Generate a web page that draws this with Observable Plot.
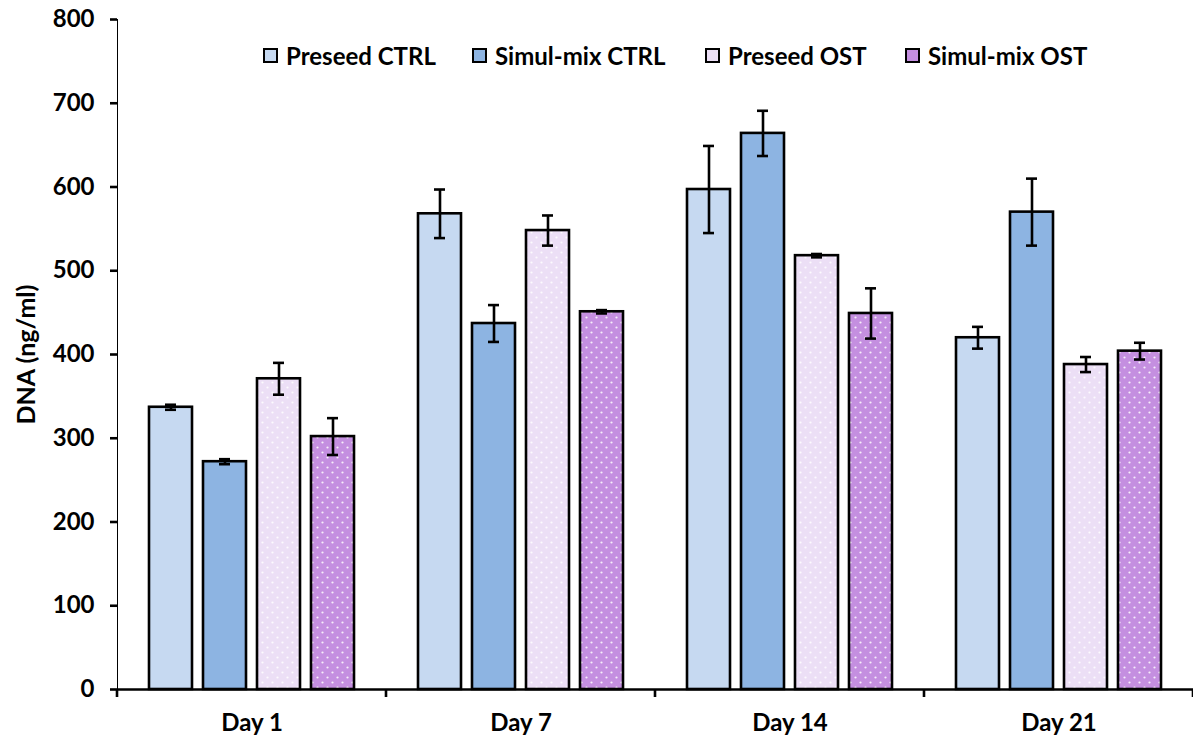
<!DOCTYPE html>
<html><head><meta charset="utf-8">
<script src="https://cdn.jsdelivr.net/npm/d3@7"></script>
<script src="https://cdn.jsdelivr.net/npm/@observablehq/plot@0.6"></script>
<style>
html,body{margin:0;padding:0;background:#fff;}
#wrap{position:relative;width:1193px;height:744px;}
#legend{position:absolute;top:42px;left:0;width:1193px;height:26px;font-family:Lato,sans-serif;font-weight:bold;font-size:24px;color:#000;}
.item{position:absolute;top:0;display:flex;align-items:center;height:26px;white-space:nowrap;}
.sw{width:11px;height:11px;border:2px solid #000;margin-right:8px;box-sizing:content-box;}
</style>
</head><body>
<div id="wrap"><div id="legend"></div></div>
<script>
const days = ["Day 1", "Day 7", "Day 14", "Day 21"];
const series = ["Preseed CTRL", "Simul-mix CTRL", "Preseed OST", "Simul-mix OST"];
const preseedCtrl = [337, 568, 597, 420];
const simulCtrl = [272, 437, 664, 570];
const preseedOst = [371, 548, 518, 388];
const simulOst = [302, 451, 449, 404];
const preseedCtrlErr = [3, 29, 52, 13];
const simulCtrlErr = [3, 22, 27, 40];
const preseedOstErr = [19, 18, 2, 9];
const simulOstErr = [22, 2, 30, 10];
const colors = ["#c6d9f1", "#8db4e2", "#ecdff6", "#c48fe0"];
const dotted = ["Preseed OST", "Simul-mix OST"];
const yTicks = [0, 100, 200, 300, 400, 500, 600, 700, 800];
const legendLeft = [263, 472, 705, 905];

const values = [preseedCtrl, simulCtrl, preseedOst, simulOst];
const errors = [preseedCtrlErr, simulCtrlErr, preseedOstErr, simulOstErr];
const data = [];
days.forEach((d, i) => series.forEach((s, j) => {
  data.push({day: d, series: s, value: values[j][i], err: errors[j][i]});
}));

const chart = Plot.plot({
  width: 1193, height: 744,
  marginLeft: 117, marginRight: 0, marginTop: 19, marginBottom: 55,
  style: {fontFamily: "Lato, sans-serif", fontSize: "24px", fontWeight: "bold", color: "#000", background: "#fff"},
  fx: {domain: days, padding: 0, axis: "bottom", label: null, tickSize: 0, tickPadding: 24},
  x: {domain: series, axis: null, paddingInner: 0.2, paddingOuter: 0.59},
  y: {domain: [0, 800], ticks: yTicks, tickSize: 7, tickPadding: 16, line: true,
      label: "DNA (ng/ml)", labelArrow: "none", labelAnchor: "center", labelOffset: 100},
  color: {domain: series, range: colors},
  marks: [
    Plot.barY(data, {fx: "day", x: "series", y: "value", fill: "series"}),
    Plot.barY(data.filter(d => dotted.includes(d.series)), {fx: "day", x: "series", y: "value", fill: "url(#dots)"}),
    Plot.barY(data, {fx: "day", x: "series", y: "value", fill: "none", stroke: "#000", strokeWidth: 2.6}),
    Plot.ruleX(data, {fx: "day", x: "series", y1: d => d.value - d.err, y2: d => d.value + d.err, stroke: "#000", strokeWidth: 2.6}),
    Plot.tickY(data, {fx: "day", x: "series", y: d => d.value + d.err, stroke: "#000", strokeWidth: 2.6, insetLeft: 16, insetRight: 16}),
    Plot.tickY(data, {fx: "day", x: "series", y: d => d.value - d.err, stroke: "#000", strokeWidth: 2.6, insetLeft: 16, insetRight: 16}),
    Plot.ruleY([0], {stroke: "#000", strokeWidth: 2.6})
  ]
});

const svg = d3.select(chart);
const defs = svg.insert("defs", ":first-child");
const pat = defs.append("pattern").attr("id", "dots").attr("patternUnits", "userSpaceOnUse")
  .attr("width", 10).attr("height", 10);
pat.append("circle").attr("cx", 2.5).attr("cy", 2.5).attr("r", 1.1).attr("fill", "#fff").attr("fill-opacity", 0.85);
pat.append("circle").attr("cx", 7.5).attr("cy", 7.5).attr("r", 1.1).attr("fill", "#fff").attr("fill-opacity", 0.85);
svg.selectAll("[aria-label='y-axis line'], [aria-label='y-axis tick']").attr("stroke-width", 2.6);
svg.selectAll("[aria-label='y-axis label']").style("font-size", "25px");

// category boundary ticks on the x axis, from the fx scale
const fx = chart.scale("fx");
const ys = chart.scale("y");
const y0 = ys.apply(0);
const bounds = days.map(d => fx.apply(d)).concat([fx.apply(days[days.length - 1]) + fx.bandwidth]);
svg.append("g").selectAll("line").data(bounds).join("line")
  .attr("x1", d => d).attr("x2", d => d).attr("y1", y0).attr("y2", y0 + 8)
  .attr("stroke", "#000").attr("stroke-width", 2.6);

document.getElementById("wrap").prepend(chart);
chart.style.position = "absolute";
chart.style.left = "0"; chart.style.top = "0";

const legend = d3.select("#legend");
series.forEach((s, j) => {
  const it = legend.append("div").attr("class", "item").style("left", legendLeft[j] + "px");
  it.append("div").attr("class", "sw").style("background", colors[j]);
  it.append("span").text(s);
});
</script>
</body></html>
